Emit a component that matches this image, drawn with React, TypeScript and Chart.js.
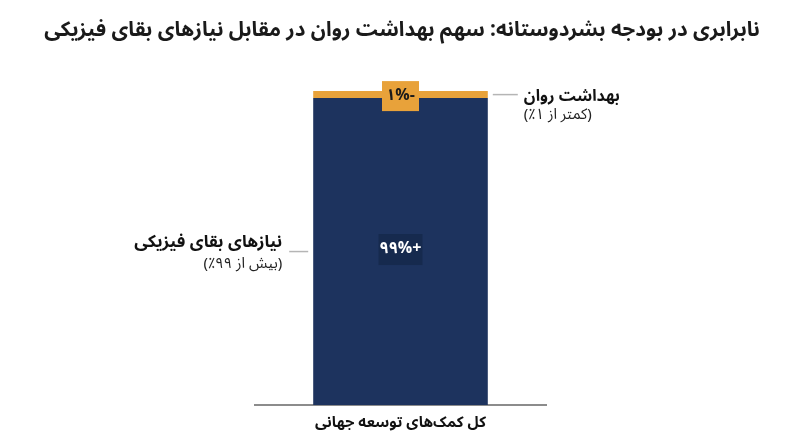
import { useEffect, useRef } from 'react'
import { Chart, registerables } from 'chart.js'

Chart.register(...registerables)

// chart data
const categories = ['کل کمک‌های توسعه جهانی']
const physicalShare = [99]
const mentalShare = [1]
const seriesNames = ['نیازهای بقای فیزیکی', 'بهداشت روان']
const seriesNotes = ['(بیش از ۹۹٪)', '(کمتر از ۱٪)']
const barLabels = ['+۹۹%', '-۱%']
const titleText = 'نابرابری در بودجه بشردوستانه: سهم بهداشت روان در مقابل نیازهای بقای فیزیکی'

const FONT = "'Noto Sans Arabic', 'DejaVu Sans', sans-serif"
const NAVY = '#1d335e'
const ORANGE = '#e8a23a'

// title is drawn by hand: the built-in one is squeezed into the padded box
const titlePlugin = {
  id: 'wideTitle',
  afterDraw(chart: any) {
    const ctx = chart.ctx
    ctx.save()
    ctx.direction = 'rtl'
    ctx.font = `bold 24px ${FONT}`
    // scale the font so the title spans about 715px like the original
    const w = ctx.measureText(titleText).width
    const size = Math.min(24, (24 * 715) / w)
    ctx.font = `bold ${size.toFixed(1)}px ${FONT}`
    ctx.fillStyle = '#1a1a1a'
    ctx.textAlign = 'center'
    ctx.textBaseline = 'middle'
    ctx.fillText(titleText, chart.width / 2 + 2, 33)
    ctx.restore()
  },
}

// draws the value boxes inside the bar and the side notes
const annotationPlugin = {
  id: 'annotations',
  afterDatasetsDraw(chart: any) {
    const ctx = chart.ctx
    ctx.save()
    ctx.direction = 'rtl'
    chart.data.datasets.forEach((_: any, i: number) => {
      const el = chart.getDatasetMeta(i).data[0]
      if (!el) return
      const { x, y, base, width } = el.getProps(['x', 'y', 'base', 'width'], true)
      const mid = (y + base) / 2
      const left = x - width / 2
      const right = x + width / 2

      // value box
      ctx.font = `bold 16px ${FONT}`
      ctx.textAlign = 'center'
      ctx.textBaseline = 'middle'
      const boxW = i === 0 ? 44 : 37
      const boxH = i === 0 ? 31 : 30
      const boxY = i === 0 ? mid - 2 : mid + 1.5
      ctx.fillStyle = i === 0 ? '#162a4e' : ORANGE
      ctx.fillRect(x - boxW / 2, boxY - boxH / 2, boxW, boxH)
      ctx.fillStyle = i === 0 ? '#ffffff' : '#1a1a1a'
      ctx.fillText(barLabels[i], x, boxY + 1)

      // connector + note
      ctx.strokeStyle = '#b5b5b5'
      ctx.lineWidth = 1.5
      ctx.beginPath()
      if (i === 0) {
        ctx.moveTo(left - 24, mid)
        ctx.lineTo(left - 5, mid)
      } else {
        ctx.moveTo(right + 5, mid)
        ctx.lineTo(right + 30, mid)
      }
      ctx.stroke()

      const tx = i === 0 ? left - 31 : right + 36
      const y1 = i === 0 ? mid - 7 : mid + 4
      const y2 = i === 0 ? mid + 14 : mid + 22
      ctx.textAlign = i === 0 ? 'right' : 'left'
      ctx.fillStyle = '#111111'
      ctx.font = `bold ${i === 0 ? 17 : 16}px ${FONT}`
      ctx.fillText(seriesNames[i], tx, y1)
      ctx.fillStyle = '#222222'
      ctx.font = `15px ${FONT}`
      ctx.fillText(seriesNotes[i], tx, y2)
    })
    ctx.restore()
  },
}

export default function App() {
  const chartRef = useRef<HTMLCanvasElement>(null)
  const chartInstance = useRef<Chart | null>(null)

  useEffect(() => {
    if (!chartRef.current) return
    if (chartInstance.current) chartInstance.current.destroy()

    chartInstance.current = new Chart(chartRef.current, {
      type: 'bar',
      data: {
        labels: categories,
        datasets: [
          {
            label: seriesNames[0],
            data: physicalShare,
            backgroundColor: NAVY,
            barPercentage: 1,
            categoryPercentage: 0.6,
          },
          {
            label: seriesNames[1],
            data: mentalShare,
            backgroundColor: ORANGE,
            barPercentage: 1,
            categoryPercentage: 0.6,
            minBarLength: 7,
            clip: false,
          },
        ],
      },
      options: {
        animation: false,
        responsive: true,
        maintainAspectRatio: false,
        layout: { padding: { left: 255, right: 254, top: 95, bottom: 2 } },
        plugins: {
          legend: { display: false },
          tooltip: { enabled: false },
          title: { display: false },
        },
        scales: {
          x: {
            stacked: true,
            grid: { display: false, drawTicks: false },
            border: { display: true, color: '#8c8c8c', width: 2 },
            ticks: {
              color: '#111111',
              padding: 11,
              font: { family: FONT, size: 15, weight: 'bold' },
            },
          },
          y: {
            stacked: true,
            display: false,
            min: 0,
            max: 100,
          },
        },
      },
      plugins: [annotationPlugin, titlePlugin],
    })

    return () => {
      if (chartInstance.current) {
        chartInstance.current.destroy()
        chartInstance.current = null
      }
    }
  }, [])

  return (
    <div style={{ position: 'absolute', left: 0, top: 0, width: 800, height: 447, background: '#ffffff' }}>
      <canvas ref={chartRef} dir="rtl"></canvas>
    </div>
  )
}
